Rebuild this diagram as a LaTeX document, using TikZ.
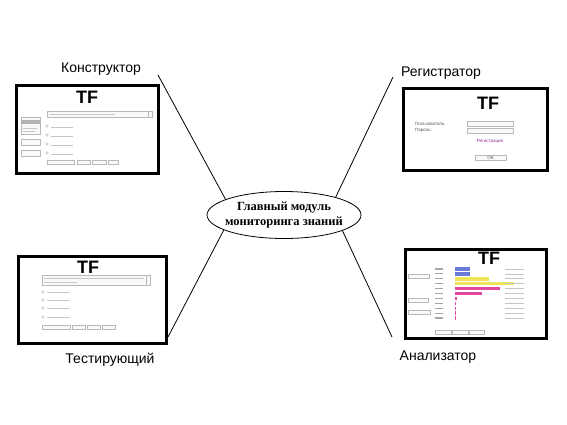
\documentclass[tikz,border=0pt]{standalone}
\usepackage{fontspec}
\setmainfont{Liberation Sans}
\newfontfamily\ellipsefont{Liberation Serif}
\usetikzlibrary{shapes.geometric}
\definecolor{barblue}{HTML}{6A78D8}
\definecolor{baryellow}{HTML}{EEE45A}
\definecolor{barpink}{HTML}{E2479E}
\definecolor{regpurple}{HTML}{8E2A8E}
\tikzset{
  screen/.style={draw, line width=2.6pt, fill=white, anchor=north west, inner sep=0pt},
  caption/.style={font=\fontsize{14}{16}\selectfont, anchor=base, inner sep=0pt},
  logo/.style={font=\fontsize{18}{18}\selectfont\bfseries, inner sep=0pt},
  link/.style={line width=0.8pt},
  widget/.style={draw=gray!55, line width=0.4pt, fill=gray!5},
  scribble/.style={draw=gray!45, line width=0.9pt},
  smalltext/.style={font=\fontsize{4.5}{5}\selectfont, inner sep=0pt, text=gray!70!black}
}
\begin{document}
\begin{tikzpicture}[x=1pt, y=-1pt]
\useasboundingbox (0,0) rectangle (567,425);

\node[ellipse, draw, line width=0.8pt, minimum width=154pt, minimum height=47pt, inner sep=0pt, inner xsep=-6pt, align=center, font=\ellipsefont\bfseries\fontsize{12.5}{15}\selectfont] (main) at (284,215) {Главный модуль\\мониторинга знаний};

\node[caption] (konlabel) at (101,73) {Конструктор};
\node[caption] (reglabel) at (441,77) {Регистратор};
\node[caption] (testlabel) at (110,363) {Тестирующий};
\node[caption] (anlabel) at (438,360) {Анализатор};

\coordinate (konend) at (158,75);
\coordinate (regend) at (393,77);
\coordinate (testend) at (168,337);
\coordinate (anend) at (392,337);
\draw[link] (konend) -- (main.165);
\draw[link] (regend) -- (main.19);
\draw[link] (testend) -- (main.194);
\draw[link] (anend) -- (main.345);

\node[screen, minimum width=142pt, minimum height=88pt] (kon) at (15,84) {};
\node[screen, minimum width=144pt, minimum height=82pt] (reg) at (402,87) {};
\node[screen, minimum width=148pt, minimum height=87pt] (test) at (17,255) {};
\node[screen, minimum width=141pt, minimum height=89pt] (an) at (404,248) {};

\begin{scope}[shift={(15,84)}]
  \node[logo] (kontf) at (72,13) {TF};
  \draw[widget] (32,27) rectangle (137,33);
  \draw[widget] (133,27) rectangle (137,33);
  \draw[scribble] (35,30) -- (100,30);
  \draw[widget] (6,33) rectangle (25,50);
  \fill[gray!60] (6,36) rectangle (25,40);
  \draw[scribble] (8,44) -- (22,44) (8,47) -- (20,47);
  \foreach \y in {55,66} \draw[widget] (6,\y) rectangle (25,\y+6);
  \foreach \y in {42,51,60,69} {
    \draw[gray!60] (32,\y) circle[radius=1.3pt];
    \draw[scribble] (36,\y+1) -- (58,\y+1);
  }
  \foreach \a/\b in {32/59,62/75,77/91,93/103} \draw[widget] (\a,76) rectangle (\b,80);
\end{scope}

\begin{scope}[shift={(402,87)}]
  \node[logo] (regtf) at (86,16) {TF};
  \node[smalltext, anchor=west] (user) at (13,37) {Пользователь:};
  \node[smalltext, anchor=west] (pass) at (13,43) {Пароль:};
  \draw[widget] (65,34) rectangle (111,39);
  \draw[widget] (65,41) rectangle (111,46);
  \node[smalltext, text=regpurple] (signup) at (88,54) {Регистрация};
  \draw[widget] (73,68) rectangle (104,73);
  \node[smalltext] (ok) at (88.5,70.5) {OK};
\end{scope}

\begin{scope}[shift={(17,255)}]
  \node[logo] (testtf) at (71,12) {TF};
  \draw[widget] (25,20) rectangle (133,30);
  \draw[widget] (129,20) rectangle (133,30);
  \draw[scribble] (27,23) -- (127,23) (27,27) -- (60,27);
  \foreach \y in {37,45,53,62} {
    \draw[gray!60] (26,\y) circle[radius=1.3pt];
    \draw[scribble] (30,\y) -- (53,\y);
  }
  \foreach \a/\b in {25/53,55/68,70/83,85/98} \draw[widget] (\a,70) rectangle (\b,74);
\end{scope}

\begin{scope}[shift={(404,248)}]
  \node[logo] (antf) at (85,10) {TF};
  \draw[widget] (4,26) rectangle (25,30);
  \draw[widget] (4,50) rectangle (24,54);
  \draw[widget] (4,62) rectangle (26,66);
  \foreach \i/\len/\col in {0/15/barblue,1/15/barblue,2/34/baryellow,3/59/baryellow,4/45/barpink,5/27/barpink,6/2/barpink,7/1/barpink,8/1/barpink,9/1/barpink,10/1.2/barpink} {
    \draw[gray!70, line width=1.1pt] (31,21+4.9*\i) -- (39,21+4.9*\i);
    \fill[\col] (51,21+4.9*\i-1.7) rectangle (51+\len,21+4.9*\i+1.7);
    \draw[scribble, line width=0.7pt] (101,21+4.9*\i) -- (120,21+4.9*\i);
  }
  \foreach \a/\b in {31/47,48/64,65/80} \draw[widget] (\a,82) rectangle (\b,86);
\end{scope}
\end{tikzpicture}
\end{document}
